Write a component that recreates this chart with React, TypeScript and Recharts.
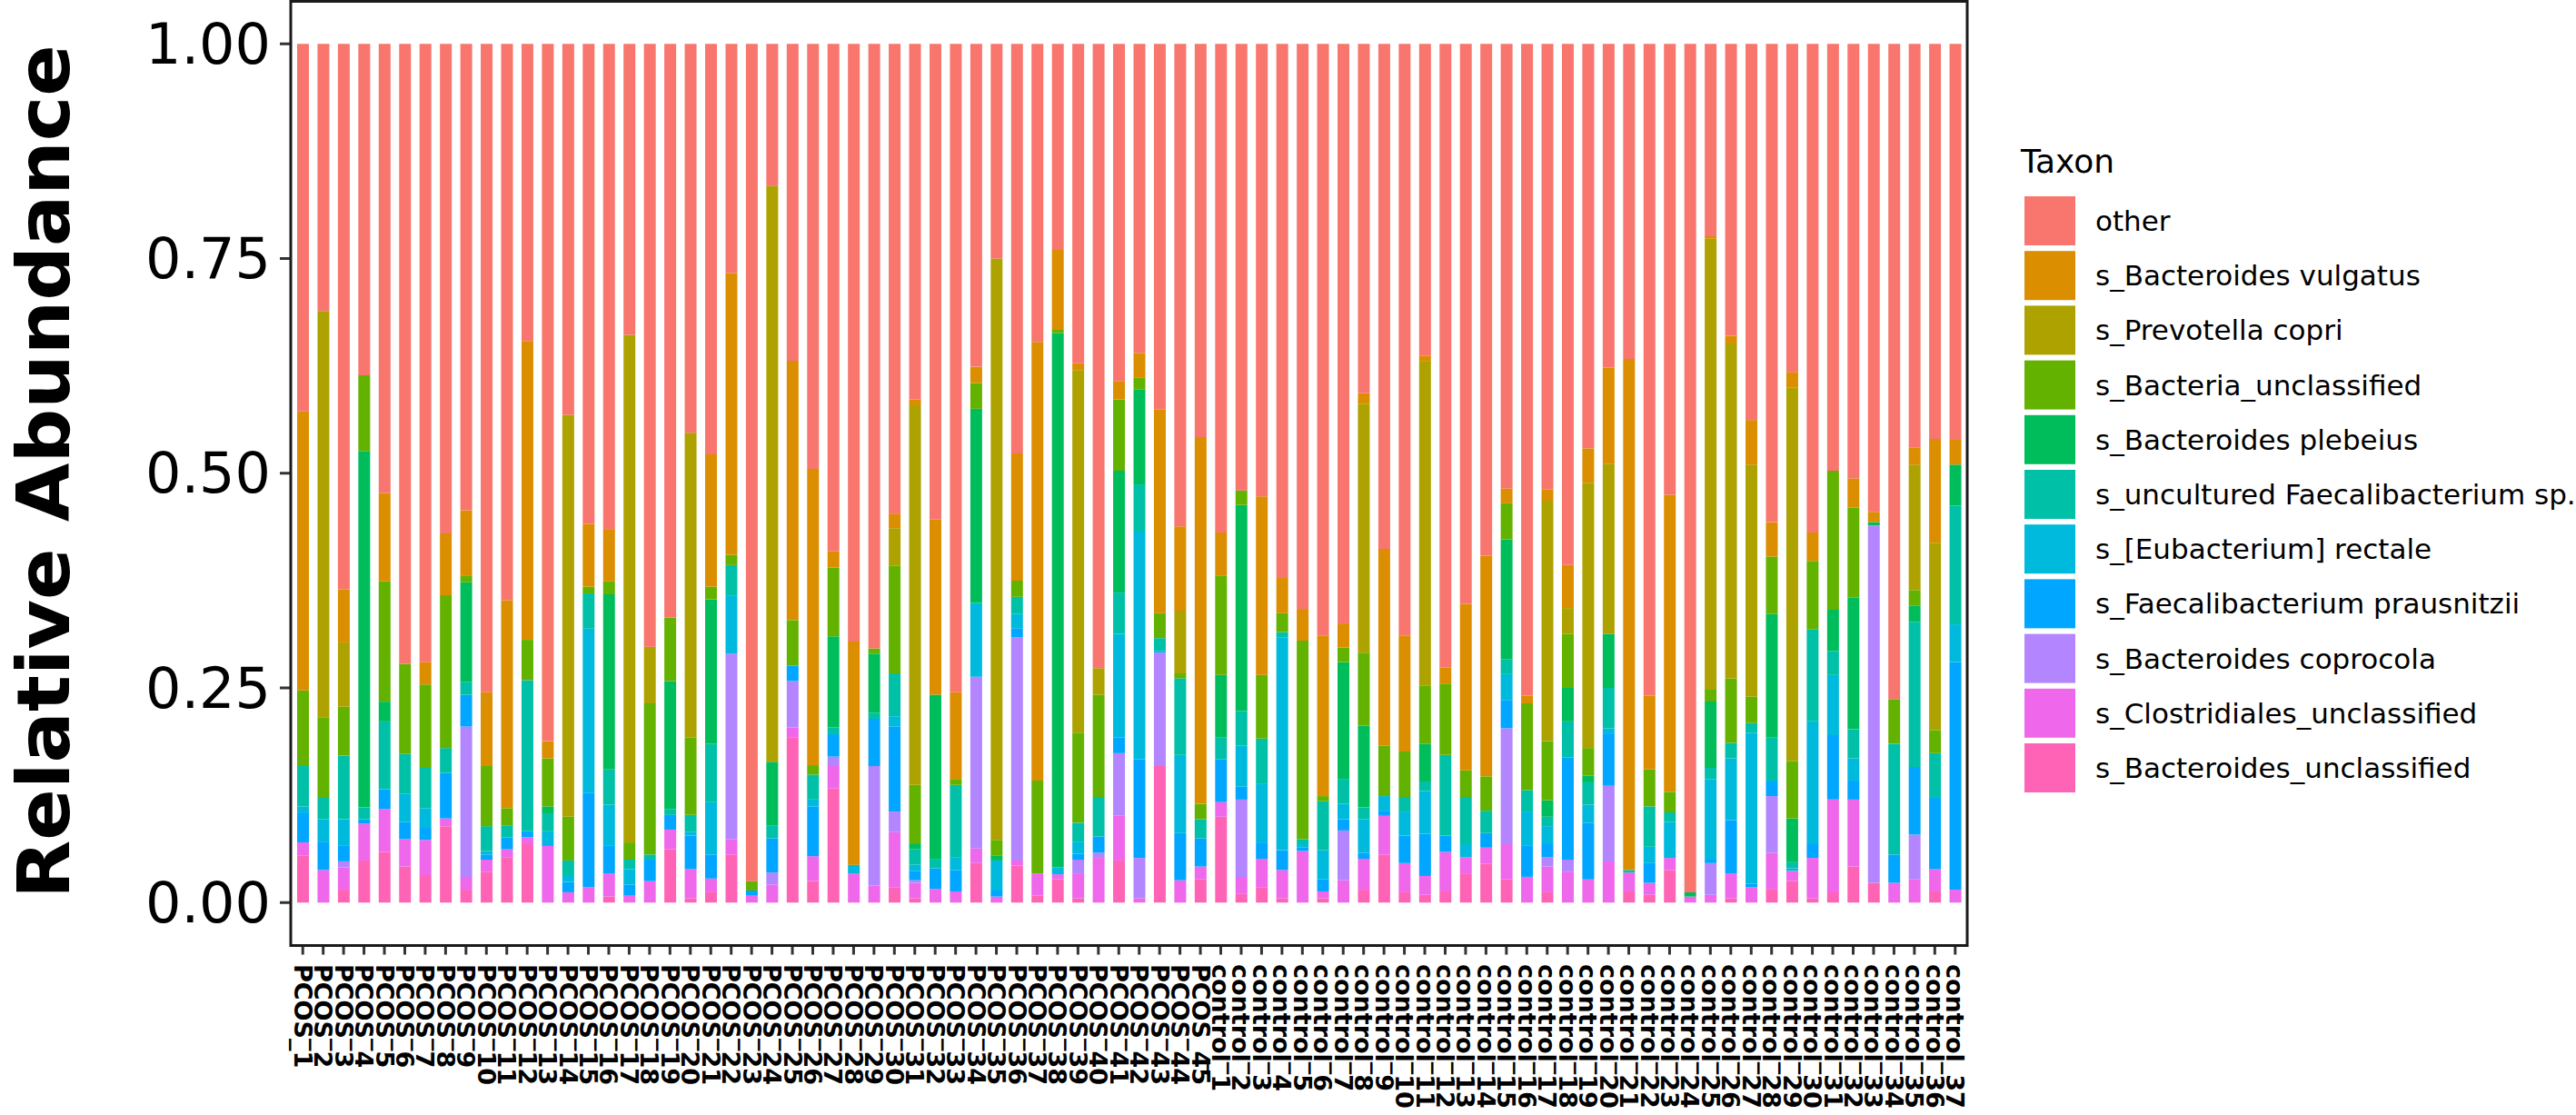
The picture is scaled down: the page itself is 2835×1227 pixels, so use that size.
import React from "react";
import { BarChart, Bar, XAxis, YAxis } from "recharts";

const samples = [
  "PCOS_1","PCOS_2","PCOS_3","PCOS_4","PCOS_5","PCOS_6","PCOS_7","PCOS_8","PCOS_9","PCOS_10",
  "PCOS_11","PCOS_12","PCOS_13","PCOS_14","PCOS_15","PCOS_16","PCOS_17","PCOS_18","PCOS_19","PCOS_20",
  "PCOS_21","PCOS_22","PCOS_23","PCOS_24","PCOS_25","PCOS_26","PCOS_27","PCOS_28","PCOS_29","PCOS_30",
  "PCOS_31","PCOS_32","PCOS_33","PCOS_34","PCOS_35","PCOS_36","PCOS_37","PCOS_38","PCOS_39","PCOS_40",
  "PCOS_41","PCOS_42","PCOS_43","PCOS_44","PCOS_45",
  "control_1","control_2","control_3","control_4","control_5","control_6","control_7","control_8","control_9","control_10",
  "control_11","control_12","control_13","control_14","control_15","control_16","control_17","control_18","control_19","control_20",
  "control_21","control_22","control_23","control_24","control_25","control_26","control_27","control_28","control_29","control_30",
  "control_31","control_32","control_33","control_34","control_35","control_36","control_37",
];

// s_Bacteroides_unclassified
const bacteroidesUnclassified = [
  .055,0,.015,.049,.059,.042,.032,.089,.015,.036,.053,.068,0,0,0,.007,0,0,.062,.005,
  .012,.056,0,0,.192,.025,.133,0,0,.018,.005,0,0,.046,0,.043,.008,.027,.005,0,
  .049,0,.159,0,.027,
  .100,.010,.018,.005,0,.005,0,.015,.056,.012,.009,.013,.034,.045,.027,0,.012,0,0,0,
  .013,.009,.038,0,0,.005,0,.016,.025,.005,.012,.042,.023,0,0,.013,0,
];
// s_Clostridiales_unclassified
const clostridialesUnclassified = [
  .015,.038,.026,.043,.050,.032,.041,.009,.015,.014,.009,.008,.066,.012,.018,.027,.008,.025,.023,.034,
  .016,.018,.008,.021,.012,.029,.026,.034,.020,.064,.018,.016,.013,.017,.007,.006,.026,.006,.029,.052,
  .052,.005,0,.026,.015,
  .017,.020,.033,.033,.060,.008,.026,.036,.045,.034,.022,.046,.019,.019,.041,.030,.030,.036,.027,.048,
  .022,.014,.014,.007,.009,.029,.018,.042,.012,.047,.108,.078,0,.023,.027,.026,.015,
];
// s_Bacteroides coprocola
const bacteroidesCoprocola = [
  0,0,.007,0,0,0,0,0,.175,0,0,0,0,0,0,0,0,0,0,0,
  0,.216,0,.014,.054,0,.011,0,.139,.024,.003,0,0,.200,0,.260,0,0,.016,.006,
  .073,.047,.132,0,0,
  0,.090,0,0,0,0,.058,0,0,0,0,0,0,0,.135,0,.011,.014,0,.088,
  0,0,0,0,.037,0,0,.066,0,0,0,0,.416,0,.052,0,0,
];
// s_Faecalibacterium prausnitzii
const faecalibacteriumPrausnitzii = [
  .034,.033,.018,.005,.023,.020,.014,.053,.037,.006,.014,.007,.002,.012,.110,.032,.013,.025,.017,.039,
  .028,0,.006,.040,.018,.058,.026,0,.055,.099,.011,.024,.025,0,.007,.010,0,0,.007,.019,
  .018,.115,.002,.055,.033,
  .050,.015,.019,.023,.004,.014,.013,.007,.006,.032,.049,.019,0,.017,.033,.036,.016,.119,.066,.061,
  0,.023,0,0,.004,.062,.004,.018,0,.017,.075,.022,0,.033,.079,.083,.265,
];
// s_[Eubacterium] rectale
const eubacteriumRectale = [
  .008,.026,.031,0,0,.033,.023,0,0,.004,0,0,.015,.008,.191,.048,.018,0,0,.004,
  .061,.067,0,0,0,.008,0,.010,0,.012,.007,0,.015,.086,.035,.017,0,.008,.014,0,
  .121,.265,0,.091,0,
  0,.048,.068,.248,.004,.034,.018,.039,.017,.028,.050,0,.015,0,.030,.040,.020,0,.021,.006,
  0,.019,.042,0,.094,.072,.176,0,.003,.142,.070,.026,0,0,0,0,.044,
];
// s_uncultured Faecalibacterium sp.
const unculturedFaecalibacterium = [
  .047,.025,.074,.014,.079,.046,.047,.029,.015,.029,.014,.176,.021,.017,.041,.041,.011,.006,.007,.020,
  .068,.036,0,.015,0,.029,.008,0,.007,.050,.018,.011,.084,0,0,.020,0,0,.022,.046,
  .048,.055,.015,.089,.022,
  .025,.040,.053,.006,.006,.057,.029,.014,0,.017,.011,.094,.055,.026,.017,.025,.011,.042,.026,.047,
  .003,.047,.011,0,.013,.018,.011,.050,.007,.107,.028,.034,0,.129,.169,.052,.138,
];
// s_Bacteroides plebeius
const bacteroidesPlebeius = [
  0,0,0,.415,.023,0,0,0,.116,0,0,0,.008,0,0,.204,0,0,.149,0,
  .168,0,0,.074,0,0,.106,0,.069,0,.007,.191,0,.226,.006,0,0,.622,0,0,
  .142,.111,0,0,0,
  .073,.240,0,0,0,0,.136,.095,0,0,.044,0,0,0,.140,0,.019,.039,.008,.063,
  0,0,0,.005,.077,0,0,.144,.051,0,.048,.153,.004,0,.019,0,.048,
];
// s_Bacteria_unclassified
const bacteriaUnclassified = [
  .088,.094,.057,.088,.140,.105,.097,.178,.008,.070,.020,.047,.056,.051,.008,.015,.020,.176,.074,.090,
  .015,.012,.011,0,.053,.011,.080,0,.006,.125,.068,0,.007,.030,.018,.019,.108,.004,.105,.119,
  .083,.013,.029,.006,.018,
  .116,.017,.074,.022,.231,.006,.017,.085,.059,.053,.068,.083,.031,.040,.042,.101,.069,.063,.032,0,
  0,.043,.024,0,.014,.075,.031,.067,.067,.080,.162,.105,0,.052,.018,.027,0,
];
// s_Prevotella copri
const prevotellaCopri = [
  0,.473,.075,0,0,0,0,0,0,0,0,0,0,.468,0,0,.591,.066,0,.355,
  0,0,0,.671,0,0,0,0,0,.044,.442,0,0,0,.677,0,0,0,.422,.031,
  0,0,0,.073,0,
  0,0,0,0,0,0,0,.290,0,0,.377,0,0,0,0,0,.280,.030,.309,.198,
  0,0,0,0,.525,.390,.270,0,.435,0,0,0,0,0,.146,.218,0,
];
// s_Bacteroides vulgatus
const bacteroidesVulgatus = [
  .325,0,.062,0,.103,0,.026,.072,.076,.086,.242,.348,.020,0,.073,.061,0,0,0,0,
  .154,.328,0,0,.302,.345,.019,.260,0,.017,.007,.204,.101,.019,0,.148,.511,.093,.008,0,
  .021,.029,.237,.098,.427,
  .050,0,.208,.041,.037,.187,.028,.012,.229,.135,.007,.019,.194,.257,.017,.009,.013,.050,.040,.112,
  .595,.086,.346,0,.003,.009,.052,.040,.018,.033,0,.034,.012,0,.020,.121,.029,
];
// other
const other = [
  .428,.311,.635,.386,.523,.722,.720,.570,.543,.755,.648,.346,.812,.432,.559,.565,.339,.702,.668,.453,
  .478,.267,.975,.165,.369,.495,.591,.696,.704,.547,.414,.554,.755,.376,.250,.477,.347,.240,.372,.727,
  .393,.360,.426,.562,.458,
  .569,.520,.527,.622,.658,.689,.675,.407,.588,.689,.363,.726,.652,.596,.518,.759,.519,.607,.471,.377,
  .367,.759,.525,.988,.224,.340,.438,.557,.382,.569,.497,.506,.545,.763,.470,.460,.461,
];

const yTicks = [0, 0.25, 0.5, 0.75, 1];
const legendTitle = "Taxon";
const yTitle = "Relative Abundance";

// bottom of stack first
const taxa = [
  { key: "k0", name: "s_Bacteroides_unclassified", values: bacteroidesUnclassified, color: "#FF63B6" },
  { key: "k1", name: "s_Clostridiales_unclassified", values: clostridialesUnclassified, color: "#EF67EB" },
  { key: "k2", name: "s_Bacteroides coprocola", values: bacteroidesCoprocola, color: "#B385FF" },
  { key: "k3", name: "s_Faecalibacterium prausnitzii", values: faecalibacteriumPrausnitzii, color: "#00A6FF" },
  { key: "k4", name: "s_[Eubacterium] rectale", values: eubacteriumRectale, color: "#00BADE" },
  { key: "k5", name: "s_uncultured Faecalibacterium sp.", values: unculturedFaecalibacterium, color: "#00C1A7" },
  { key: "k6", name: "s_Bacteroides plebeius", values: bacteroidesPlebeius, color: "#00BD5C" },
  { key: "k7", name: "s_Bacteria_unclassified", values: bacteriaUnclassified, color: "#64B200" },
  { key: "k8", name: "s_Prevotella copri", values: prevotellaCopri, color: "#AEA200" },
  { key: "k9", name: "s_Bacteroides vulgatus", values: bacteroidesVulgatus, color: "#DB8E00" },
  { key: "k10", name: "other", values: other, color: "#F8766D" },
];

const data = samples.map((name, i) => {
  const row: Record<string, any> = { name };
  taxa.forEach((t) => {
    row[t.key] = t.values[i];
  });
  return row;
});

const W = 2835;
const H = 1227;
const PLOT_LEFT = 320;
const PLOT_RIGHT = 2165;
const PLOT_TOP = 1;
const PLOT_BOTTOM = 1040.5;

const YTick = (props: any) => {
  const { y, payload } = props;
  return (
    <text
      x={298}
      y={y}
      textAnchor="end"
      dominantBaseline="central"
      fontSize={62}
      fontFamily="DejaVu Sans"
      fill="#000"
    >
      {Number(payload.value).toFixed(2)}
    </text>
  );
};

const XTick = (props: any) => {
  const { x, payload } = props;
  return (
    <text
      transform={`translate(${x},1061) rotate(90)`}
      textAnchor="start"
      dominantBaseline="central"
      fontSize={27}
      fontWeight="bold"
      fontFamily="DejaVu Sans"
      fill="#000"
    >
      {payload.value}
    </text>
  );
};

const legendItems = [...taxa].reverse();

export default function App() {
  return (
    <div style={{ position: "absolute", left: 0, top: 0, width: W, height: H, background: "#fff" }}>
      <BarChart
        width={W}
        height={H}
        data={data}
        margin={{ top: PLOT_TOP, right: W - PLOT_RIGHT, bottom: 0, left: 0 }}
        barCategoryGap={0}
      >
        <XAxis
          dataKey="name"
          interval={0}
          height={H - PLOT_BOTTOM}
          tickSize={10}
          tickLine={{ stroke: "#333", strokeWidth: 3 }}
          axisLine={false}
          padding={{ left: 2, right: 2 }}
          tick={<XTick />}
        />
        <YAxis
          type="number"
          domain={[-0.05, 1.05]}
          ticks={yTicks}
          allowDataOverflow
          width={PLOT_LEFT}
          tickSize={12}
          tickLine={{ stroke: "#333", strokeWidth: 3 }}
          axisLine={false}
          tick={<YTick />}
        />
        {taxa.map((t) => (
          <Bar
            key={t.key}
            dataKey={t.key}
            name={t.name}
            stackId="a"
            fill={t.color}
            barSize={13}
            isAnimationActive={false}
          />
        ))}
      </BarChart>
      <svg
        width={W}
        height={H}
        style={{ position: "absolute", left: 0, top: 0, pointerEvents: "none" }}
      >
        <rect
          x={PLOT_LEFT}
          y={PLOT_TOP + 0.5}
          width={PLOT_RIGHT - PLOT_LEFT}
          height={PLOT_BOTTOM - PLOT_TOP - 0.5}
          fill="none"
          stroke="#1a1a1a"
          strokeWidth={3}
        />
        <text
          x={76}
          y={519}
          transform="rotate(-90, 76, 519)"
          textAnchor="middle"
          fontSize={80}
          fontWeight="bold"
          fontFamily="DejaVu Sans"
          textLength={940}
          lengthAdjust="spacingAndGlyphs"
          fill="#000"
        >
          {yTitle}
        </text>
        <text x={2224} y={190} fontSize={36} fontFamily="DejaVu Sans" fill="#000">
          {legendTitle}
        </text>
        {legendItems.map((t, i) => {
          const top = 216 + i * 60.2;
          return (
            <g key={t.key}>
              <rect x={2228} y={top} width={56} height={54} fill={t.color} />
              <text
                x={2306}
                y={top + 27}
                dominantBaseline="central"
                fontSize={31}
                fontFamily="DejaVu Sans"
                fill="#000"
              >
                {t.name}
              </text>
            </g>
          );
        })}
      </svg>
    </div>
  );
}
